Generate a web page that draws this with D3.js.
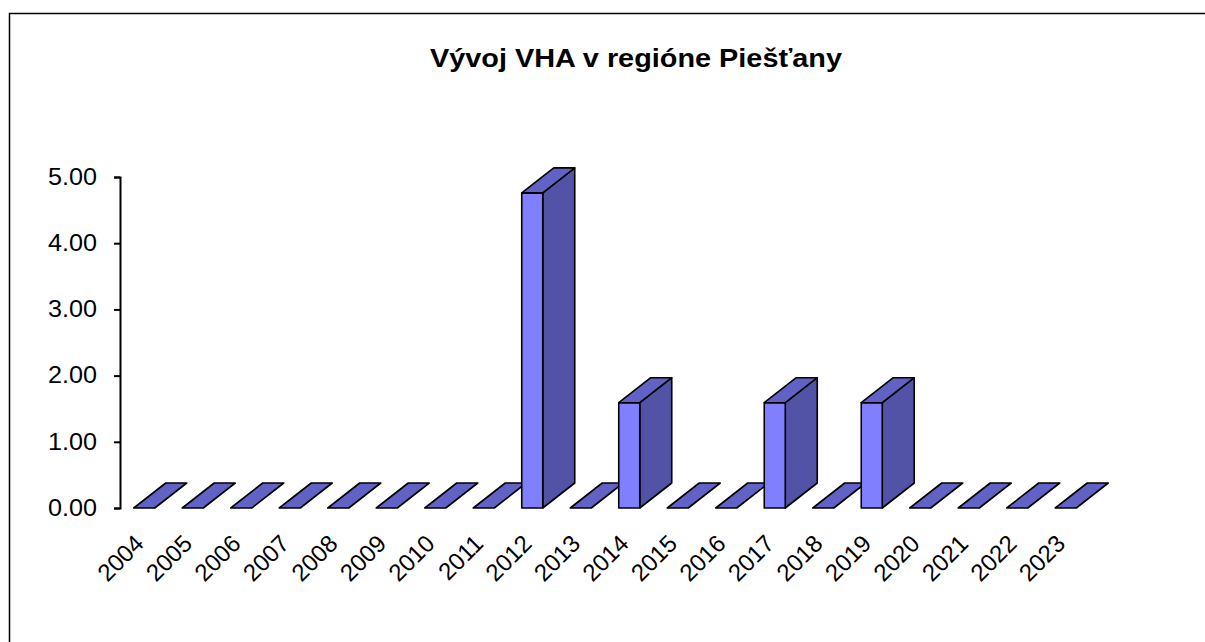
<!DOCTYPE html>
<html>
<head>
<meta charset="utf-8">
<script src="https://cdn.jsdelivr.net/npm/d3@7"></script>
<style>
  body { margin: 0; background: #fff; }
  svg text { font-family: "Liberation Sans", Arial, sans-serif; fill: #000; }
</style>
</head>
<body>
<div id="chart"></div>
<script>
// data
var years = ['2004', '2005', '2006', '2007', '2008', '2009', '2010', '2011', '2012', '2013',
  '2014', '2015', '2016', '2017', '2018', '2019', '2020', '2021', '2022', '2023'];
var values = [0, 0, 0, 0, 0, 0, 0, 0, 4.76, 0, 1.59, 0, 0, 1.59, 0, 1.59, 0, 0, 0, 0];
var yTicks = [0, 1, 2, 3, 4, 5];
var title = 'Vývoj VHA v regióne Piešťany';

var width = 1205, height = 642;
var plot = { left: 120, right: 1090, top: 177, bottom: 508 };
var depth = { dx: 32, dy: -25 };

var svg = d3.select('#chart').append('svg')
  .attr('width', width)
  .attr('height', height);

// chart border (runs off the right and bottom of the window)
svg.append('rect')
  .attr('x', 9.5).attr('y', 13.5)
  .attr('width', 1260).attr('height', 700)
  .attr('fill', '#fff')
  .attr('stroke', '#000')
  .attr('stroke-width', 1.5);

// the source chart's text is a bit wider than plain Arial, so stretch it
svg.append('text')
  .attr('x', 430).attr('y', 67)
  .attr('font-size', 26)
  .attr('font-weight', 'bold')
  .attr('textLength', 412)
  .attr('lengthAdjust', 'spacingAndGlyphs')
  .text(title);

var x = d3.scaleBand()
  .domain(years)
  .range([plot.left, plot.right])
  .paddingInner(0.567)
  .paddingOuter(0.2835);

var y = d3.scaleLinear()
  .domain([0, 5])
  .range([plot.bottom, plot.top]);

// y axis
var yAxis = svg.append('g')
  .attr('transform', 'translate(' + plot.left + ',0)')
  .call(d3.axisLeft(y)
    .tickValues(yTicks)
    .tickFormat(d3.format('.2f'))
    .tickSize(6)
    .tickPadding(23));
yAxis.select('.domain').attr('stroke-width', 2);
yAxis.selectAll('.tick line').attr('stroke-width', 2);
yAxis.selectAll('.tick text')
  .attr('font-size', 23)
  .attr('font-family', '"Liberation Sans", Arial, sans-serif')
  .attr('text-anchor', 'start')
  .attr('x', -72)
  .attr('textLength', 49)
  .attr('lengthAdjust', 'spacingAndGlyphs');

// 3d bars
var bars = svg.append('g')
  .attr('stroke', '#000')
  .attr('stroke-width', 1.6)
  .attr('stroke-linejoin', 'round');

years.forEach(function (yr, i) {
  var x0 = x(yr), x1 = x0 + x.bandwidth();
  var yb = y(0), yt = y(values[i]);
  var dx = depth.dx, dy = depth.dy;
  var g = bars.append('g');
  if (values[i] > 0) {
    // side
    g.append('path')
      .attr('fill', '#5252A6')
      .attr('d', 'M' + x1 + ',' + yb + 'L' + (x1 + dx) + ',' + (yb + dy) +
        'L' + (x1 + dx) + ',' + (yt + dy) + 'L' + x1 + ',' + yt + 'Z');
    // front
    g.append('path')
      .attr('fill', '#8080FF')
      .attr('d', 'M' + x0 + ',' + yb + 'L' + x1 + ',' + yb +
        'L' + x1 + ',' + yt + 'L' + x0 + ',' + yt + 'Z');
  }
  // top
  g.append('path')
    .attr('fill', '#6262C4')
    .attr('d', 'M' + x0 + ',' + yt + 'L' + x1 + ',' + yt +
      'L' + (x1 + dx) + ',' + (yt + dy) + 'L' + (x0 + dx) + ',' + (yt + dy) + 'Z');
});

// x labels
svg.append('g').selectAll('text')
  .data(years)
  .enter().append('text')
  .attr('font-size', 24)
  .attr('text-anchor', 'end')
  .attr('transform', function (d) {
    return 'translate(' + (x(d) + x.bandwidth() / 2 + 1) + ',' + 545 + ') rotate(-45)';
  })
  .text(function (d) { return d; });
</script>
</body>
</html>
